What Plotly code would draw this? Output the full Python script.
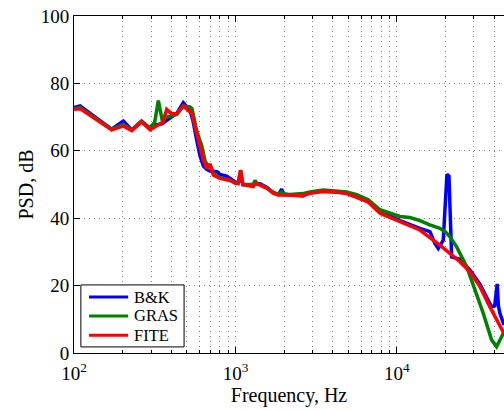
import plotly.graph_objects as go

# Power spectral density of three microphones
bk_freq = [100, 109, 171, 202, 228, 262, 296, 303, 350, 375, 433, 475, 500, 523, 545,
           561, 575, 603, 633, 663, 695, 768, 801, 882, 924, 993, 1036, 1076, 1112,
           1289, 1321, 1418, 1561, 1715, 1841, 1933, 1983, 2175, 2617, 2892, 3497,
           4234, 4884, 5630, 6640, 7847, 10440, 13870, 16000, 17180, 18020, 19350,
           19900, 20400, 21000, 21400, 21810, 24560, 28330, 32650, 35890, 38550,
           40300, 41000, 41760, 42500, 43410, 46030]
bk_psd = [72.8, 73.3, 66.4, 68.8, 66.2, 68.8, 66.6, 67.4, 68.0, 69.0, 71.1, 74.3, 73.2,
          72.0, 69.0, 65.5, 63.2, 58.5, 55.5, 54.5, 54.0, 53.8, 53.0, 52.5, 51.8, 50.8,
          50.5, 52.0, 50.0, 49.8, 50.2, 50.2, 49.2, 47.6, 47.0, 48.6, 47.2, 46.9, 46.6,
          47.6, 48.1, 47.9, 47.5, 46.4, 45.0, 42.0, 39.3, 37.0, 36.0, 32.5, 31.0, 33.5,
          45.0, 53.0, 52.5, 40.0, 28.5, 27.8, 24.6, 20.4, 16.7, 13.7, 14.0, 17.0, 20.5,
          14.0, 11.8, 8.3]

gras_freq = [100, 109, 171, 202, 228, 262, 296, 316, 333, 352, 375, 433, 475, 523, 538,
             561, 575, 603, 618, 648, 680, 695, 729, 768, 801, 924, 993, 1040, 1076,
             1112, 1289, 1321, 1359, 1561, 1715, 1841, 1933, 1983, 2175, 2617, 2892,
             3497, 4234, 4884, 5630, 6640, 7847, 9055, 10440, 12040, 13870, 16000,
             18450, 20100, 21290, 23430, 27020, 29670, 34220, 38550, 41400, 44480, 46030]
gras_psd = [72.5, 72.8, 66.4, 67.8, 66.2, 68.6, 66.8, 68.5, 74.9, 69.0, 70.0, 70.8, 73.3,
            73.0, 72.5, 68.0, 66.0, 63.0, 61.5, 57.0, 55.2, 56.0, 53.5, 52.5, 52.0, 51.2,
            50.5, 50.5, 54.2, 50.0, 50.0, 51.2, 50.3, 49.0, 47.6, 47.2, 47.8, 47.2, 47.0,
            47.3, 47.8, 48.4, 48.2, 47.8, 47.0, 45.5, 42.5, 41.5, 40.5, 40.2, 39.3, 38.0,
            37.0, 35.8, 34.5, 31.5, 25.6, 20.2, 11.8, 3.9, 1.9, 4.8, 6.3]

fite_freq = [100, 109, 171, 202, 228, 262, 296, 333, 355, 375, 403, 433, 475, 511, 538,
             561, 575, 603, 633, 663, 695, 729, 801, 924, 993, 1040, 1076, 1112, 1144,
             1289, 1321, 1418, 1561, 1715, 1841, 2175, 2617, 2892, 3497, 4234, 4884,
             5630, 6640, 7847, 10440, 13870, 18450, 21290, 24560, 28330, 32650, 37640,
             43410, 46030]
fite_psd = [72.3, 72.5, 66.2, 67.4, 66.0, 68.6, 66.2, 67.5, 68.5, 72.3, 71.0, 71.0, 73.3,
            72.0, 71.0, 67.2, 65.0, 61.2, 57.3, 54.8, 56.1, 52.8, 51.8, 51.3, 50.4, 50.3,
            54.3, 50.0, 49.9, 49.4, 50.3, 49.9, 48.9, 47.4, 46.9, 46.8, 46.8, 47.4, 47.9,
            47.8, 47.3, 46.2, 44.8, 41.5, 39.0, 36.5, 32.0, 29.6, 27.1, 24.1, 19.7, 13.7,
            7.8, 5.8]

series = [
    ("B&K", bk_freq, bk_psd, "#0000FF"),
    ("GRAS", gras_freq, gras_psd, "#008000"),
    ("FITE", fite_freq, fite_psd, "#FF0000"),
]

FONT = "Liberation Serif"
GRID = "rgba(0,0,0,0.5)"
DOTS = "1px,4px"

fig = go.Figure()
for name, f, p, color in series:
    fig.add_trace(go.Scatter(x=f, y=p, mode="lines", name=name, showlegend=False,
                             line=dict(color=color, width=3.5)))

# Boxed legend in the lower-left corner of the axes (paper coordinates)
box_x0, box_x1, box_y0, box_y1 = 0.016, 0.256, 0.018, 0.202
row_y = [0.166, 0.110, 0.053]
fig.add_shape(type="rect", xref="paper", yref="paper",
              x0=box_x0, x1=box_x1, y0=box_y0, y1=box_y1,
              line=dict(color="black", width=1), fillcolor="white", layer="above")
for (name, _, _, color), yy in zip(series, row_y):
    fig.add_shape(type="line", xref="paper", yref="paper",
                  x0=0.035, x1=0.126, y0=yy, y1=yy,
                  line=dict(color=color, width=3), layer="above")
    fig.add_annotation(text=name, xref="paper", yref="paper", x=0.134, y=yy,
                       xanchor="left", yanchor="middle", showarrow=False,
                       font=dict(family=FONT, size=16.5, color="black"))

minor_vals = [m * 10 ** e for e in (2, 3, 4) for m in range(2, 10)]

fig.update_layout(
    template="none",
    width=504, height=410,
    margin=dict(l=74, r=0, t=16, b=57),
    paper_bgcolor="white", plot_bgcolor="white",
    font=dict(family=FONT, size=19, color="black"),
    showlegend=False,
    xaxis=dict(type="log", range=[2, 4.663],
               tickvals=[100, 1000, 10000],
               ticktext=["10<sup>2</sup>", "10<sup>3</sup>", "10<sup>4</sup>"],
               tickfont=dict(family=FONT, size=19),
               ticklabelstandoff=3,
               ticks="inside", ticklen=6, tickcolor="black",
               showline=True, linecolor="black", linewidth=1, mirror="ticks",
               showgrid=True, gridcolor=GRID, griddash=DOTS, gridwidth=1,
               minor=dict(tickvals=minor_vals, ticks="inside", ticklen=3,
                          tickcolor="black", showgrid=True, gridcolor=GRID,
                          griddash=DOTS, gridwidth=1),
               zeroline=False,
               title=dict(text="Frequency, Hz", standoff=5,
                          font=dict(family=FONT, size=20))),
    yaxis=dict(range=[0, 100], tickvals=[0, 20, 40, 60, 80, 100],
               tickfont=dict(family=FONT, size=19),
               ticks="inside", ticklen=6, tickcolor="black",
               showline=True, linecolor="black", linewidth=1,
               showgrid=True, gridcolor=GRID, griddash=DOTS, gridwidth=1,
               zeroline=False,
               title=dict(text="PSD, dB", standoff=1,
                          font=dict(family=FONT, size=20))),
)

fig.write_html("out.html")
